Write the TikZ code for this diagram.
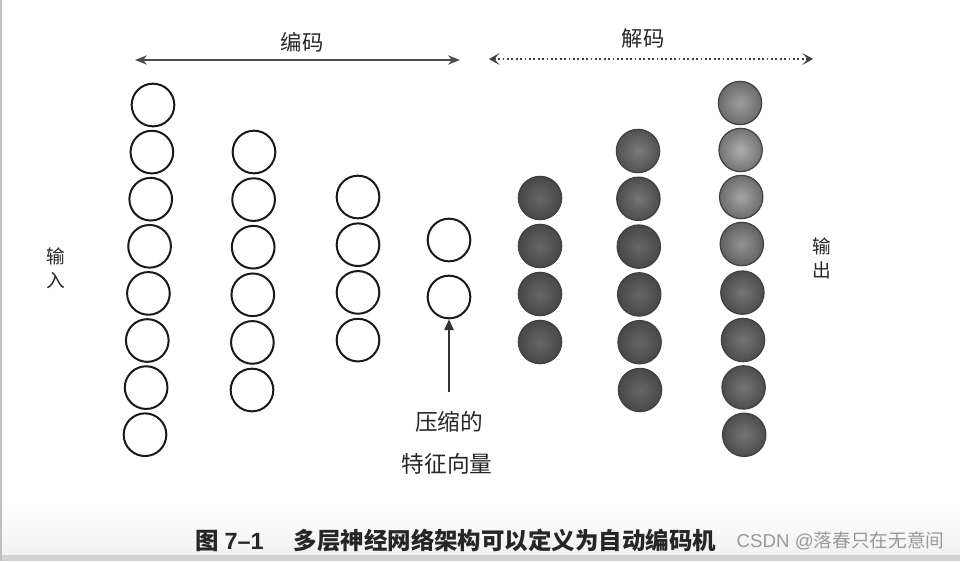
\documentclass[tikz,border=0pt]{standalone}
\usepackage{fontspec}
\setmainfont{Liberation Sans}
\newfontfamily\cjk{Noto Sans CJK SC}
\usetikzlibrary{arrows.meta}
\begin{document}
\begin{tikzpicture}[x=0.75pt,y=-0.75pt,
  neuron/.style={circle,draw=black!90,line width=1.5pt,minimum size=32pt,inner sep=0pt},
  ball/.style 2 args={circle,draw=black!75,line width=0.9pt,minimum size=32.5pt,inner sep=0pt,
    shading=radial,inner color=#1,outer color=#2},
  lbl/.style={font=\cjk\fontsize{16pt}{18pt}\selectfont,text=black!85},
  side/.style={font=\cjk\fontsize{14pt}{15pt}\selectfont,text=black!85,align=center},
  captext/.style={text=black!85,font=\cjk\bfseries\fontsize{17.6pt}{20pt}\selectfont}]
\useasboundingbox (0,0) rectangle (960,561);
\fill[white] (0,0) rectangle (960,561);
\shade[top color=white,bottom color=black!5] (0,500) rectangle (960,555);
\fill[black!18] (0,555) rectangle (960,561);
\fill[black!25] (0,0) rectangle (2,561);

% encoder columns
\foreach \i in {1,...,8}
  \node[neuron] (a\i) at ({153-(\i-1)*8/7},{105+(\i-1)*47.1}) {};
\foreach \i in {1,...,6}
  \node[neuron] (b\i) at ({254-(\i-1)*0.4},{152+(\i-1)*47.6}) {};
\foreach \i in {1,...,4}
  \node[neuron] (c\i) at (358,{197+(\i-1)*47.7}) {};
\node[neuron] (d1) at (449,240) {};
\node[neuron] (d2) at (449,297) {};

% decoder columns
\foreach \i in {1,...,4}
  \node[ball={black!60}{black!72}] (e\i) at (540,{198+(\i-1)*48}) {};
\node[ball={black!52}{black!68}] (f1) at (638,151) {};
\node[ball={black!54}{black!70}] (f2) at (638.4,198.8) {};
\foreach \i in {3,...,6}
  \node[ball={black!60}{black!72}] (f\i) at ({638+(\i-1)*0.4},{151+(\i-1)*47.8}) {};
\node[ball={black!38}{black!58}] (g1) at (740,103) {};
\node[ball={black!32}{black!55}] (g2) at (740.6,150) {};
\node[ball={black!35}{black!58}] (g3) at (741.2,197) {};
\node[ball={black!42}{black!62}] (g4) at (741.8,244) {};
\foreach \i in {5,...,8}
  \node[ball={black!54}{black!70}] (g\i) at ({740+(\i-1)*0.6},{103+(\i-1)*47.4}) {};

% top arrows
\coordinate (encL) at (135,60);
\coordinate (encR) at (460,60);
\draw[black!70,line width=1.1pt,{Stealth[length=9pt,width=7pt]}-{Stealth[length=9pt,width=7pt]}] (encL) -- (encR);
\node[lbl] (enc) at (302,42) {编码};
\coordinate (decL) at (489,59);
\coordinate (decR) at (813,59);
\draw[black!75,line width=1.3pt,dotted,{Stealth[length=8pt,width=9pt,inset=4pt]}-{Stealth[length=8pt,width=9pt,inset=4pt]}] (decL) -- (decR);
\node[lbl] (dec) at (643,38) {解码};

% side labels
\node[side] (inp) at (56,268) {输\\[3pt]入};
\node[side] (outp) at (822,258) {输\\[3pt]出};

% compressed vector
\coordinate (vecS) at (449,392);
\draw[black!80,line width=1pt,-{Triangle[length=8pt,width=7pt]}] (vecS) -- (d2.south);
\node[lbl,font=\cjk\fontsize{17pt}{20pt}\selectfont] (t1) at (449,422) {压缩的};
\node[lbl,font=\cjk\fontsize{17pt}{20pt}\selectfont] (t2) at (447,464) {特征向量};

% caption
\node[captext,anchor=west] (fig) at (191,541) {图 {\rmfamily\bfseries 7–1}};
\node[captext,anchor=west] (captxt) at (289,541) {多层神经网络架构可以定义为自动编码机};
\node[anchor=west,text=black!40,font=\fontsize{14pt}{16pt}\selectfont] (wm) at (732,541) {CSDN @{\cjk 落春只在无意间}};
\end{tikzpicture}
\end{document}
